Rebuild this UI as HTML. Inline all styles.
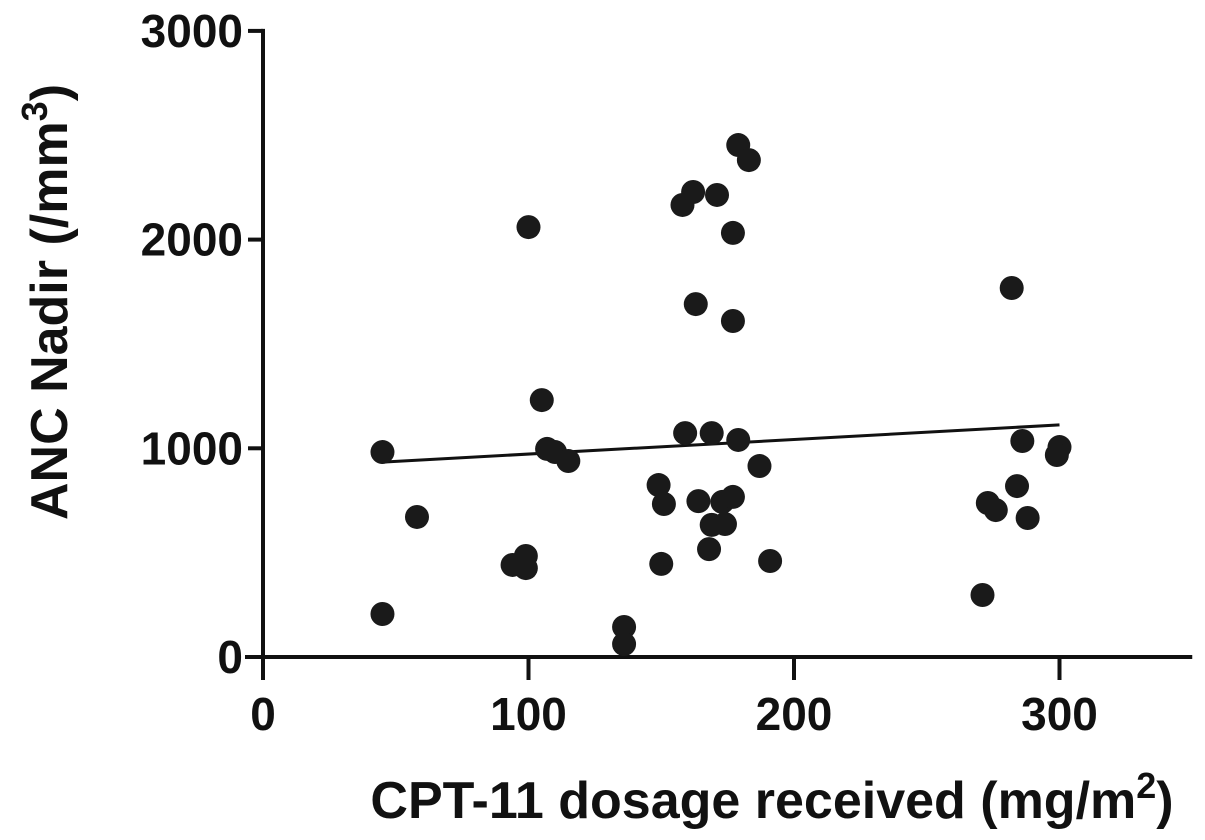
<!DOCTYPE html>
<html><head><meta charset="utf-8"><style>
html,body{margin:0;padding:0;background:#fff;}
svg{display:block;font-family:"Liberation Sans",sans-serif;font-weight:bold;}
</style></head><body>
<svg id="chart" width="1205" height="840"></svg>
<script>
const xTicks=[0,100,200,300];
const yTicks=[0,1000,2000,3000];
const doseValues=[45,58,45,100,105,107,110,115,94,99,99,136,136,149,151,150,158,162,171,179,183,177,163,177,159,169,179,187,164,169,174,173,177,168,191,282,286,300,299,273,276,284,288,271];
const ancValues=[982,671,206,2060,1231,997,982,939,441,484,426,144,62,824,733,446,2166,2228,2214,2453,2381,2032,1691,1610,1073,1073,1040,915,747,633,637,743,767,517,460,1768,1035,1006,968,738,704,819,666,297];
const fitX=[45,300];
const fitY=[934,1112];
const NS="http://www.w3.org/2000/svg";
const svg=document.getElementById('chart');
const X0=263,XS=2.655,Y0=657,YS=0.2087;
const sx=v=>X0+v*XS, sy=v=>Y0-v*YS;
function mk(t,a,p){const e=document.createElementNS(NS,t);for(const k in a)e.setAttribute(k,a[k]);(p||svg).appendChild(e);return e;}
const ax=mk('g',{});


mk('line',{x1:X0,y1:sy(3000)-2,x2:X0,y2:680,stroke:'#111','stroke-width':4},ax);
mk('line',{x1:245,y1:Y0,x2:sx(350),y2:Y0,stroke:'#111','stroke-width':4},ax);
yTicks.forEach(v=>{
  mk('line',{x1:248,y1:sy(v),x2:X0,y2:sy(v),stroke:'#111','stroke-width':4},ax);
  const t=mk('text',{x:243,y:sy(v)+16,'text-anchor':'end','font-size':46,fill:'#111'});
  t.textContent=v;
  
  
});
xTicks.forEach(v=>{
  mk('line',{x1:sx(v),y1:Y0,x2:sx(v),y2:680,stroke:'#111','stroke-width':4},ax);
  const t=mk('text',{x:sx(v),y:730,'text-anchor':'middle','font-size':46,fill:'#111'});
  t.textContent=v;
  
  
});
const fit=mk('line',{x1:sx(fitX[0]),y1:sy(fitY[0]),x2:sx(fitX[1]),y2:sy(fitY[1]),stroke:'#111','stroke-width':3});


doseValues.forEach((d,i)=>{
  const c=mk('circle',{cx:sx(d),cy:sy(ancValues[i]),r:12,fill:'#1a1a1a'});
  
  
});
</script>
<svg width="1205" height="840" style="position:absolute;left:0;top:0;font-family:'Liberation Sans',sans-serif;font-weight:bold">
<text x="772" y="818" text-anchor="middle" font-size="52" fill="#111">CPT-11 dosage received (mg/m<tspan font-size="36" dy="-20">2</tspan><tspan dy="20">)</tspan></text>
<text transform="translate(67,302) rotate(-90)" text-anchor="middle" font-size="52" fill="#111">ANC Nadir (/mm<tspan font-size="36" dy="-20">3</tspan><tspan dy="20">)</tspan></text>
</svg>
</body></html>
